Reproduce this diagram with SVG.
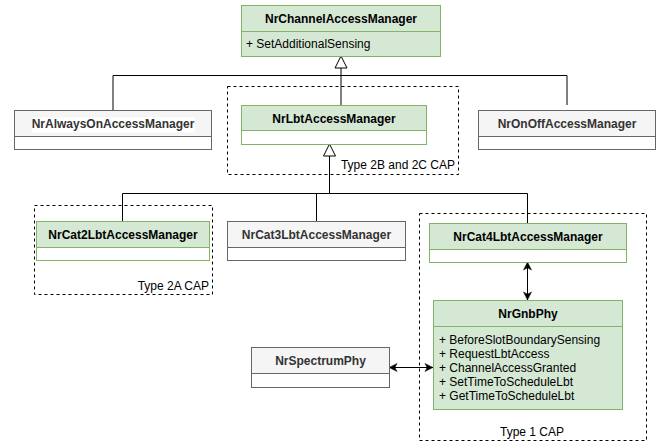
<svg xmlns="http://www.w3.org/2000/svg" width="657" height="442" viewBox="0 0 657 442">
<style>
text{font-family:"Liberation Sans",Arial,Helvetica,sans-serif;font-size:12px}
.t{font-weight:bold;text-anchor:middle}
.g rect.h{fill:#d5e8d4;stroke:#82b366}
.g rect.b{fill:#ffffff;stroke:#82b366}
.g rect.bg{fill:#d5e8d4;stroke:#82b366}
.s rect.h{fill:#f5f5f5;stroke:#666666}
.s rect.b{fill:#ffffff;stroke:#666666}
.s text{fill:#333333}
.g text{fill:#000000}
.grp rect{fill:none;stroke:#000;stroke-dasharray:3 3}
.grp text{fill:#000}
.c path{fill:none;stroke:#000;stroke-width:1}
</style>
<defs>
<marker id="tri" viewBox="0 0 14 14" refX="13" refY="7" markerWidth="14" markerHeight="14" markerUnits="userSpaceOnUse" orient="auto" overflow="visible">
<path d="M1,1 L13,7 L1,13 Z" fill="#fff" stroke="#000" stroke-width="1"/>
</marker>
<marker id="arr" viewBox="0 0 10 10" refX="9" refY="5" markerWidth="9" markerHeight="9" markerUnits="userSpaceOnUse" orient="auto-start-reverse" overflow="visible">
<path d="M0,0.5 L9,5 L0,9.5 L2.5,5 Z" fill="#000" stroke="#000" stroke-width="0.5"/>
</marker>
</defs>
<rect width="657" height="442" fill="#ffffff"/>

<g id="group-type2b2c" class="grp">
<rect x="227.5" y="86.5" width="231" height="88"/>
<text x="455" y="169" text-anchor="end">Type 2B and 2C CAP</text>
</g>
<g id="group-type2a" class="grp">
<rect x="34.5" y="205.5" width="178" height="89"/>
<text x="209" y="290" text-anchor="end">Type 2A CAP</text>
</g>
<g id="group-type1" class="grp">
<rect x="419.5" y="213.5" width="227" height="227"/>
<text x="532" y="436" text-anchor="middle">Type 1 CAP</text>
</g>

<g id="connectors" class="c">
<path d="M113,110 V75.5 H341"/>
<path d="M567,105 V75.5 H341"/>
<path d="M341,105 V56" marker-end="url(#tri)"/>
<path d="M122.5,221 V193.5 H329.5"/>
<path d="M316.5,221 V193.5"/>
<path d="M527.5,223 V193.5 H329.5"/>
<path d="M329.5,193.5 V144" marker-end="url(#tri)"/>
<path d="M527.5,262 V300" marker-start="url(#arr)" marker-end="url(#arr)"/>
<path d="M389,367.5 H433" marker-start="url(#arr)" marker-end="url(#arr)"/>
</g>

<g id="NrChannelAccessManager" class="g">
<rect class="bg" x="241.5" y="5.5" width="199" height="51"/>
<rect class="h" x="241.5" y="5.5" width="199" height="26"/>
<text class="t" x="341" y="22.5">NrChannelAccessManager</text>
<text x="246" y="48">+ SetAdditionalSensing</text>
</g>

<g id="NrAlwaysOnAccessManager" class="s">
<rect class="h" x="14.5" y="110.5" width="197" height="26"/>
<rect class="b" x="14.5" y="136.5" width="197" height="13"/>
<rect x="32" y="117.5" width="163" height="15" fill="#ffffff" stroke="none"/>
<text class="t" x="113" y="128">NrAlwaysOnAccessManager</text>
</g>

<g id="NrLbtAccessManager" class="g">
<rect class="h" x="241.5" y="105.5" width="185" height="25"/>
<rect class="b" x="241.5" y="130.5" width="185" height="14"/>
<text class="t" x="334" y="122.5">NrLbtAccessManager</text>
</g>

<g id="NrOnOffAccessManager" class="s">
<rect class="h" x="478.5" y="110.5" width="177" height="26"/>
<rect class="b" x="478.5" y="136.5" width="177" height="13"/>
<text class="t" x="567" y="128">NrOnOffAccessManager</text>
</g>

<g id="NrCat2LbtAccessManager" class="g">
<rect class="h" x="36.5" y="221.5" width="173" height="26"/>
<rect class="b" x="36.5" y="247.5" width="173" height="13"/>
<text class="t" x="123" y="238.5">NrCat2LbtAccessManager</text>
</g>

<g id="NrCat3LbtAccessManager" class="s">
<rect class="h" x="227.5" y="221.5" width="178" height="26"/>
<rect class="b" x="227.5" y="247.5" width="178" height="13"/>
<text class="t" x="316.5" y="238.5">NrCat3LbtAccessManager</text>
</g>

<g id="NrCat4LbtAccessManager" class="g">
<rect class="h" x="429.5" y="223.5" width="197" height="26"/>
<rect class="b" x="429.5" y="249.5" width="197" height="13"/>
<text class="t" x="528" y="240.5">NrCat4LbtAccessManager</text>
</g>

<g id="NrGnbPhy" class="g">
<rect class="bg" x="433.5" y="300.5" width="189" height="109"/>
<rect class="h" x="433.5" y="300.5" width="189" height="26"/>
<text class="t" x="528" y="317.5">NrGnbPhy</text>
<text x="439" y="344">+ BeforeSlotBoundarySensing</text>
<text x="439" y="358">+ RequestLbtAccess</text>
<text x="439" y="372">+ ChannelAccessGranted</text>
<text x="439" y="386">+ SetTimeToScheduleLbt</text>
<text x="439" y="400">+ GetTimeToScheduleLbt</text>
</g>

<g id="NrSpectrumPhy" class="s">
<rect class="h" x="251.5" y="347.5" width="138" height="26"/>
<rect class="b" x="251.5" y="373.5" width="138" height="14"/>
<text class="t" x="320.5" y="364.5">NrSpectrumPhy</text>
</g>
</svg>
